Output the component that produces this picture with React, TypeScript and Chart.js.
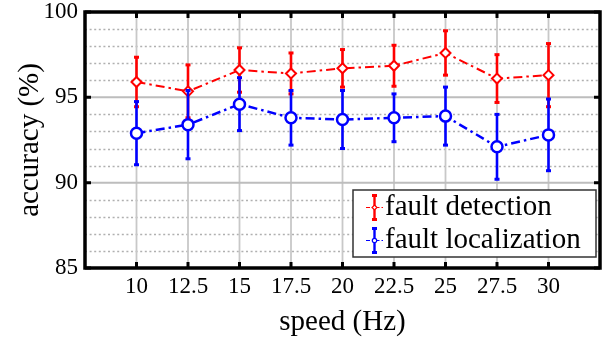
import React, { useEffect, useRef } from "react";
import { Chart, registerables } from "chart.js";

Chart.register(...registerables);

const speeds = [10, 12.5, 15, 17.5, 20, 22.5, 25, 27.5, 30];
const detection = [95.9, 95.35, 96.6, 96.4, 96.7, 96.85, 97.6, 96.1, 96.3];
const detectionErr = [1.45, 1.55, 1.3, 1.2, 1.1, 1.2, 1.3, 1.4, 1.85];
const localization = [92.9, 93.4, 94.6, 93.8, 93.7, 93.8, 93.9, 92.1, 92.8];
const localizationErr = [1.85, 2.0, 1.55, 1.6, 1.7, 1.4, 1.7, 1.9, 2.1];
const yMajorTicks = [85, 90, 95, 100];
const seriesNames = ["fault detection", "fault localization"];
const seriesColors = ["#ff0000", "#0000ff"];

const FONT = "'Liberation Serif', 'Times New Roman', serif";

export default function App() {
  const ref = useRef<HTMLCanvasElement>(null);

  useEffect(() => {
    if (!ref.current) return;
    const errs = [detectionErr, localizationErr];
    const values = [detection, localization];

    const plugin = {
      id: "matlabStyle",
      beforeDatasetsDraw(chart: any) {
        const { ctx, chartArea: a, scales } = chart;
        const y = scales.y;
        const x = scales.x;
        ctx.save();
        ctx.strokeStyle = "#b0b0b0";
        ctx.lineWidth = 1.6;
        ctx.setLineDash([2, 2.6]);
        for (let v = 86; v < 100; v++) {
          if (v % 5 === 0) continue;
          const py = Math.round(y.getPixelForValue(v)) + 0.5;
          ctx.beginPath();
          ctx.moveTo(a.left, py);
          ctx.lineTo(a.right, py);
          ctx.stroke();
        }
        ctx.setLineDash([]);
        ctx.strokeStyle = "#c8c8c8";
        ctx.lineWidth = 1.8;
        speeds.forEach((s) => {
          const px = x.getPixelForValue(s);
          ctx.beginPath();
          ctx.moveTo(px, a.top);
          ctx.lineTo(px, a.bottom);
          ctx.stroke();
        });
        ctx.strokeStyle = "#bdbdbd";
        ctx.lineWidth = 2;
        yMajorTicks.forEach((v) => {
          if (v === 85 || v === 100) return;
          const py = y.getPixelForValue(v);
          ctx.beginPath();
          ctx.moveTo(a.left, py);
          ctx.lineTo(a.right, py);
          ctx.stroke();
        });
        ctx.restore();
      },
      beforeDatasetDraw(chart: any, args: any) {
        const i = args.index;
        const { ctx, scales } = chart;
        const x = scales.x;
        const y = scales.y;
        ctx.save();
        ctx.strokeStyle = seriesColors[i];
        ctx.fillStyle = seriesColors[i];
        ctx.lineWidth = 2.6;
        speeds.forEach((s, k) => {
          const px = x.getPixelForValue(s);
          const top = y.getPixelForValue(values[i][k] + errs[i][k]);
          const bot = y.getPixelForValue(values[i][k] - errs[i][k]);
          ctx.beginPath();
          ctx.moveTo(px, top);
          ctx.lineTo(px, bot);
          ctx.stroke();
          ctx.fillRect(px - 2.5, top - 1.5, 5, 3);
          ctx.fillRect(px - 2.5, bot - 1.5, 5, 3);
        });
        ctx.restore();
      },
      afterDraw(chart: any) {
        const { ctx, chartArea: a, scales } = chart;
        const x = scales.x;
        const y = scales.y;
        ctx.save();
        ctx.strokeStyle = "#000";
        ctx.lineWidth = 3.5;
        ctx.strokeRect(a.left, a.top, a.right - a.left, a.bottom - a.top);
        ctx.lineWidth = 3;
        const tl = 6;
        speeds.forEach((s) => {
          const px = x.getPixelForValue(s);
          ctx.beginPath();
          ctx.moveTo(px, a.bottom);
          ctx.lineTo(px, a.bottom - tl);
          ctx.moveTo(px, a.top);
          ctx.lineTo(px, a.top + tl);
          ctx.stroke();
        });
        yMajorTicks.forEach((v) => {
          const py = y.getPixelForValue(v);
          ctx.beginPath();
          ctx.moveTo(a.left, py);
          ctx.lineTo(a.left + tl, py);
          ctx.moveTo(a.right, py);
          ctx.lineTo(a.right - tl, py);
          ctx.stroke();
        });
        // legend
        const lx = 353, ly = 190, lw = 243, lh = 67;
        ctx.fillStyle = "#fff";
        ctx.fillRect(lx, ly, lw, lh);
        ctx.strokeStyle = "#333";
        ctx.lineWidth = 1.5;
        ctx.strokeRect(lx, ly, lw, lh);
        const rows = [207.5, 240.5];
        rows.forEach((ry, i) => {
          const c = seriesColors[i];
          const ix = 374.5;
          ctx.strokeStyle = c;
          ctx.fillStyle = c;
          ctx.lineWidth = 2.4;
          ctx.beginPath();
          ctx.moveTo(ix, ry - 12);
          ctx.lineTo(ix, ry + 12);
          ctx.stroke();
          ctx.fillRect(ix - 2.5, ry - 13.5, 5, 3);
          ctx.fillRect(ix - 2.5, ry + 10.5, 5, 3);
          ctx.lineWidth = 1;
          ctx.setLineDash([4, 2, 1.5, 2]);
          ctx.beginPath();
          ctx.moveTo(366, ry);
          ctx.lineTo(384, ry);
          ctx.stroke();
          ctx.setLineDash([]);
          ctx.fillStyle = "#fff";
          ctx.lineWidth = 1.2;
          ctx.beginPath();
          if (i === 0) {
            ctx.moveTo(ix, ry - 2.5);
            ctx.lineTo(ix + 2.5, ry);
            ctx.lineTo(ix, ry + 2.5);
            ctx.lineTo(ix - 2.5, ry);
            ctx.closePath();
          } else {
            ctx.arc(ix, ry, 2.2, 0, Math.PI * 2);
          }
          ctx.fill();
          ctx.stroke();
          ctx.fillStyle = "#000";
          ctx.font = `29px ${FONT}`;
          ctx.textAlign = "left";
          ctx.textBaseline = "middle";
          ctx.fillText(seriesNames[i], 385, ry);
        });
        ctx.restore();
      },
    };

    const zeroPad = (scale: any) => {
      scale.paddingTop = 0;
      scale.paddingBottom = 0;
      scale.paddingLeft = 0;
      scale.paddingRight = 0;
    };

    const chart = new Chart(ref.current, {
      type: "line",
      data: {
        datasets: [
          {
            label: seriesNames[0],
            data: speeds.map((s, k) => ({ x: s, y: detection[k] })),
            borderColor: seriesColors[0],
            borderWidth: 2,
            borderDash: [9, 4, 2.5, 4],
            pointStyle: "rectRot",
            pointRadius: 5,
            pointBorderWidth: 2,
            pointBackgroundColor: "#fff",
            pointBorderColor: seriesColors[0],
            order: 1,
          },
          {
            label: seriesNames[1],
            data: speeds.map((s, k) => ({ x: s, y: localization[k] })),
            borderColor: seriesColors[1],
            borderWidth: 2.5,
            borderDash: [9, 4, 2.5, 4],
            pointStyle: "circle",
            pointRadius: 5.5,
            pointBorderWidth: 2.5,
            pointBackgroundColor: "#fff",
            pointBorderColor: seriesColors[1],
            order: 0,
          },
        ],
      },
      options: {
        responsive: false,
        animation: false,
        devicePixelRatio: 1,
        layout: { padding: { top: 12, right: 4, left: 0, bottom: 0 } },
        plugins: { legend: { display: false }, tooltip: { enabled: false } },
        scales: {
          x: {
            type: "linear",
            min: 7.5,
            max: 32.5,
            grid: { display: false, drawTicks: false },
            border: { display: false },
            afterBuildTicks: (scale: any) => {
              scale.ticks = [7.5, ...speeds, 32.5].map((v) => ({ value: v }));
            },
            afterFit: (scale: any) => {
              scale.height = 73;
              zeroPad(scale);
            },
            ticks: {
              autoSkip: false,
              maxRotation: 0,
              padding: 7,
              color: "#000",
              font: { family: FONT, size: 23, lineHeight: 1 },
              callback: (v: any) => (v < 9 || v > 31 ? "" : String(v)),
            },
            title: {
              display: true,
              text: "speed (Hz)",
              color: "#000",
              font: { family: FONT, size: 29, lineHeight: 1 },
              padding: { top: 0, bottom: 4 },
            },
          },
          y: {
            min: 85,
            max: 100,
            grid: { display: false, drawTicks: false },
            border: { display: false },
            afterBuildTicks: (scale: any) => {
              scale.ticks = yMajorTicks.map((v) => ({ value: v }));
            },
            afterFit: (scale: any) => {
              scale.width = 85;
              zeroPad(scale);
            },
            ticks: {
              padding: 7,
              color: "#000",
              font: { family: FONT, size: 23, lineHeight: 1 },
              callback: (v: any) => String(v),
            },
            title: {
              display: true,
              text: "accuracy (%)",
              color: "#000",
              font: { family: FONT, size: 29, lineHeight: 1 },
              padding: { top: 16, bottom: 0 },
            },
          },
        },
      },
      plugins: [plugin],
    } as any);

    return () => chart.destroy();
  }, []);

  return (
    <div
      style={{
        position: "absolute",
        left: 0,
        top: 0,
        width: 608,
        height: 341,
        background: "#fff",
      }}
    >
      <canvas ref={ref} width={608} height={341} style={{ display: "block" }} />
    </div>
  );
}
